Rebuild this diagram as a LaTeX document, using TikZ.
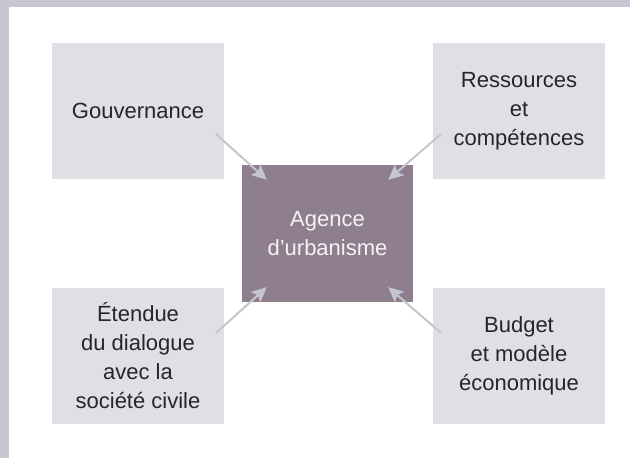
\documentclass[tikz,border=0pt]{standalone}
\usepackage{fontspec}
\setmainfont{Liberation Sans}
\usetikzlibrary{arrows.meta}

\definecolor{bandgray}{HTML}{C7C7D1}
\definecolor{boxgray}{HTML}{E0DFE5}
\definecolor{agencymauve}{HTML}{8F7E8D}
\definecolor{arrowgray}{HTML}{C5C5D2}
\definecolor{textgray}{HTML}{262626}
\definecolor{agencytext}{HTML}{F5F3F5}

\def\boxw{172pt}
\def\boxh{136pt}

\begin{document}
\begin{tikzpicture}[x=1pt,y=1pt]
    \tikzstyle{factor}=[rectangle,fill=boxgray,minimum width=\boxw,minimum height=\boxh,inner sep=0pt,align=center,text=textgray,font=\fontsize{22}{29}\selectfont]
    \tikzstyle{agency}=[factor,fill=agencymauve,minimum width=171pt,minimum height=137pt,text=agencytext]
    \tikzstyle{link}=[-{Stealth[length=15pt,width=14pt,inset=3pt]},draw=arrowgray,line width=2pt]

    % frame
    \fill[bandgray] (0,0) rectangle (630,458);
    \fill[white] (9,0) rectangle (630,451);

    \node[factor] (gov) at (138,347) {Gouvernance};
    \node[factor] (res) at (519,347) {Ressources\\et\\compétences};
    \node[factor] (dia) at (138,102) {Étendue\\du dialogue\\avec la\\société civile};
    \node[factor] (bud) at (519,102) {Budget\\et modèle\\économique};

    \node[agency] (agence) at (327.5,224.5) {Agence\\d’urbanisme};

    \coordinate (gov-out) at ([shift={(-8,45)}]gov.south east);
    \coordinate (res-out) at ([shift={(8,45)}]res.south west);
    \coordinate (dia-out) at ([shift={(-8,-45)}]dia.north east);
    \coordinate (bud-out) at ([shift={(8,-45)}]bud.north west);

    \coordinate (agence-nw) at ([shift={(25,-15)}]agence.north west);
    \coordinate (agence-ne) at ([shift={(-25,-15)}]agence.north east);
    \coordinate (agence-sw) at ([shift={(25,15)}]agence.south west);
    \coordinate (agence-se) at ([shift={(-25,15)}]agence.south east);

    \foreach \source / \dest in {gov-out/agence-nw,res-out/agence-ne,dia-out/agence-sw,bud-out/agence-se}
        \path (\source) edge[link] (\dest);
\end{tikzpicture}
\end{document}
